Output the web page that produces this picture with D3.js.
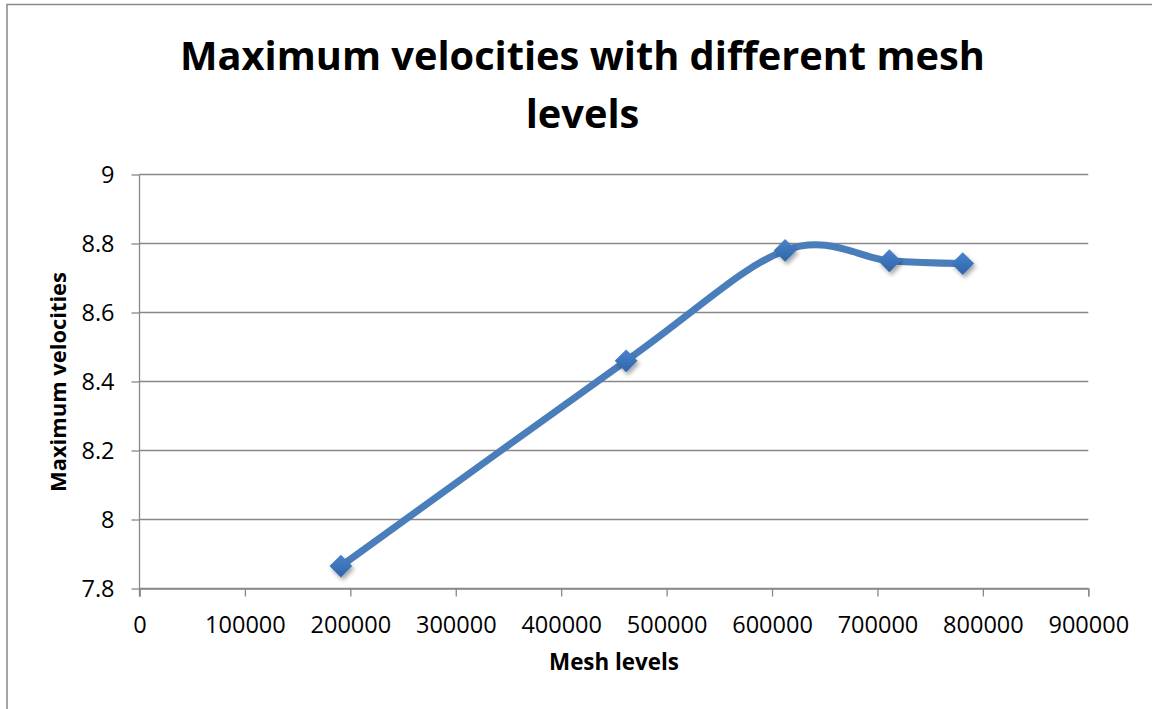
<!DOCTYPE html>
<html><head><meta charset="utf-8">
<script src="https://cdn.jsdelivr.net/npm/d3@7"></script>
<style>html,body{margin:0;padding:0;background:#fff;overflow:hidden}</style>
</head><body>
<svg id="c" width="1152" height="709"></svg>
<script>
const meshLevels = [191000, 461600, 612400, 711300, 780900];
const maxVelocities = [7.865, 8.46, 8.78, 8.75, 8.742];
const xTicks = [0, 100000, 200000, 300000, 400000, 500000, 600000, 700000, 800000, 900000];
const yTicks = [7.8, 8, 8.2, 8.4, 8.6, 8.8, 9];
const titleLines = ["Maximum velocities with different mesh", "levels"];
const xTitle = "Mesh levels";
const yTitle = "Maximum velocities";

const FONT = "'Open Sans', 'Noto Sans', sans-serif";
const svg = d3.select("#c");
const defs = svg.append("defs");
const f = defs.append("filter").attr("id","sh").attr("x","-50%").attr("y","-50%").attr("width","200%").attr("height","200%");
f.append("feDropShadow").attr("dx",2).attr("dy",3).attr("stdDeviation",2).attr("flood-color","#000").attr("flood-opacity",0.35);
const g = defs.append("linearGradient").attr("id","mg").attr("x1",0).attr("y1",0).attr("x2",0).attr("y2",1);
g.append("stop").attr("offset","0%").attr("stop-color","#4a84cc");
g.append("stop").attr("offset","100%").attr("stop-color","#2f64a8");

// outer border
svg.append("rect").attr("x",7).attr("y",4.5).attr("width",1160).attr("height",720)
  .attr("fill","none").attr("stroke","#888").attr("stroke-width",1.5);

const x = d3.scaleLinear().domain([0, 900000]).range([139.5, 1088.3]);
const y = d3.scaleLinear().domain([7.8, 9]).range([588.5, 174.5]);

// gridlines
svg.append("g").selectAll("line").data(yTicks).join("line")
  .attr("x1", x(0)).attr("x2", x(900000))
  .attr("y1", d=>y(d)).attr("y2", d=>y(d))
  .attr("stroke","#888").attr("stroke-width",1.3);

// axes
const xAxis = d3.axisBottom(x).tickValues(xTicks).tickSize(8).tickPadding(20).tickFormat(d3.format("d"));
const yAxis = d3.axisLeft(y).tickValues(yTicks).tickSize(8).tickPadding(17).tickFormat(d=>d3.format("")(+d.toFixed(1)));
const gx = svg.append("g").attr("transform",`translate(0,${y(7.8)})`).call(xAxis);
const gy = svg.append("g").attr("transform",`translate(${x(0)},0)`).call(yAxis);
[gx, gy].forEach(a=>{
  a.select(".domain").attr("stroke","#888").attr("stroke-width",1.3);
  a.selectAll(".tick line").attr("stroke","#888").attr("stroke-width",1.3);
  a.selectAll(".tick text").attr("font-family",FONT).attr("font-size",23.5).attr("fill","#000");
});
gy.select(".domain").attr("d", `M0,${y(9)}V${y(7.8)+8}`);
gy.selectAll(".tick text").attr("dy","0.35em");

// line
const pts = meshLevels.map((m,i)=>[m, maxVelocities[i]]);
const line = d3.line().x(d=>x(d[0])).y(d=>y(d[1])).curve(d3.curveCardinal.tension(0));
svg.append("path").attr("d", line(pts)).attr("fill","none")
  .attr("stroke","#4a7ebb").attr("stroke-width",7).attr("stroke-linecap","round").attr("stroke-linejoin","round");

// markers
const sym = d3.symbol().type(d3.symbolDiamond2).size(330);
svg.append("g").selectAll("path").data(pts).join("path")
  .attr("transform", d=>`translate(${x(d[0])},${y(d[1])})`)
  .attr("d", sym).attr("fill","url(#mg)").attr("filter","url(#sh)");

// fit text helper
function fit(t, w){
  const cur = t.node().getComputedTextLength();
  const fs = parseFloat(t.attr("font-size"));
  t.attr("font-size", fs * w / cur);
}
// title
const t1 = svg.append("text").attr("x",582.5).attr("y",70).attr("text-anchor","middle")
  .attr("font-family",FONT).attr("font-weight","bold").attr("font-size",40).text(titleLines[0]);
fit(t1, 805);
const t2 = svg.append("text").attr("x",582.5).attr("y",128).attr("text-anchor","middle")
  .attr("font-family",FONT).attr("font-weight","bold").attr("font-size",t1.attr("font-size")).text(titleLines[1]);

const xt = svg.append("text").attr("x",614).attr("y",670).attr("text-anchor","middle")
  .attr("font-family",FONT).attr("font-weight","bold").attr("font-size",20).text(xTitle);
fit(xt, 130);
const yt = svg.append("text").attr("transform","translate(66,382) rotate(-90)").attr("text-anchor","middle")
  .attr("font-family",FONT).attr("font-weight","bold").attr("font-size",20).text(yTitle);
fit(yt, 220);
</script>
</body></html>
